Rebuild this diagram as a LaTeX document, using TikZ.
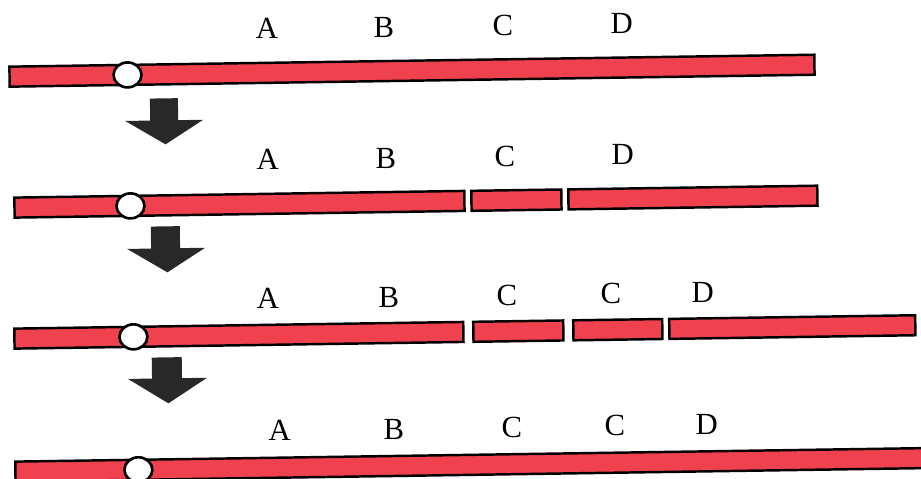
\documentclass[tikz,border=0pt]{standalone}
\usepackage{fontspec}
\setmainfont{Liberation Serif}
\usetikzlibrary{shapes.geometric}

\definecolor{barred}{RGB}{240,66,78}
\definecolor{arrowgray}{RGB}{40,40,40}

\tikzset{
  piece/.style={draw=black, line width=1.4pt, fill=barred},
  centro/.style={ellipse, draw=black, line width=1.5pt, fill=white, minimum width=0.56cm, minimum height=0.5cm, inner sep=0pt},
  gene/.style={font=\fontsize{17.5}{20}\selectfont, inner sep=0pt},
  blockarrow/.style={fill=arrowgray}
}

\begin{document}
\begin{tikzpicture}[x=0.02cm, y=-0.02cm]
\clip (0,0) rectangle (921,479);
\begin{scope}[rotate around={0.85:(460,240)}]

% row 1
\draw[piece] (12,60) rectangle (817,80);
\node[centro] (c1) at (130,70) {};
\node[gene] (a1) at (270,26) {A};
\node[gene] (b1) at (387,26) {B};
\node[gene] (cc1) at (506,26) {C};
\node[gene] (d1) at (625,26) {D};

\fill[blockarrow] (152,94) -- (180,94) -- (180,116) -- (205,116) -- (167,140) -- (127,116) -- (152,116) -- cycle;

% row 2
\draw[piece] (15,191) rectangle (465,211);
\draw[piece] (472,191) rectangle (562,211);
\draw[piece] (569,191) rectangle (818,211);
\node[centro] (c2) at (131,201) {};
\node[gene] (a2) at (269,157) {A};
\node[gene] (b2) at (387,157) {B};
\node[gene] (cc2) at (506,157) {C};
\node[gene] (d2) at (624,157) {D};

\fill[blockarrow] (151,222) -- (180,222) -- (180,244) -- (205,244) -- (167,268) -- (127,244) -- (151,244) -- cycle;

% row 3
\draw[piece] (13,322) rectangle (462,342);
\draw[piece] (472,322) rectangle (562,342);
\draw[piece] (572,322) rectangle (661,342);
\draw[piece] (668,322) rectangle (914,342);
\node[centro] (c3) at (132,332) {};
\node[gene] (a3) at (267,296) {A};
\node[gene] (b3) at (388,296) {B};
\node[gene] (cc3) at (506,296) {C};
\node[gene] (cc4) at (610,296) {C};
\node[gene] (d3) at (702,296) {D};

\fill[blockarrow] (150,353) -- (180,353) -- (180,374) -- (205,374) -- (166,399) -- (126,374) -- (150,374) -- cycle;

% row 4
\draw[piece] (12,455) rectangle (935,475);
\node[centro] (c4) at (135,465) {};
\node[gene] (a4) at (277,428) {A};
\node[gene] (b4) at (391,428) {B};
\node[gene] (cc5) at (509,428) {C};
\node[gene] (cc6) at (612,428) {C};
\node[gene] (d4) at (704,428) {D};

\end{scope}
\end{tikzpicture}
\end{document}
